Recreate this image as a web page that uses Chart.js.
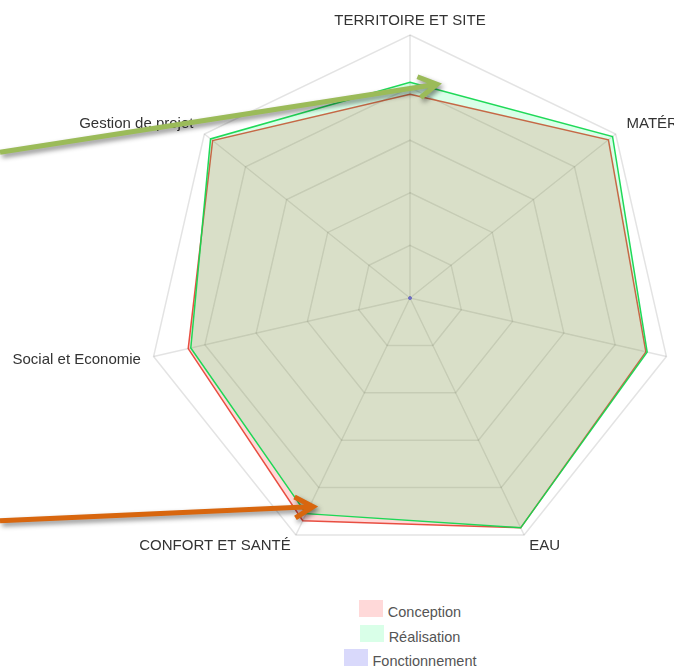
<!DOCTYPE html>
<html>
<head>
<meta charset="utf-8">
<script src="https://cdn.jsdelivr.net/npm/chart.js@4/dist/chart.umd.min.js"></script>
<style>
  html, body { margin: 0; padding: 0; background: #fff; overflow: hidden; }
  #wrap { position: relative; left: -30px; width: 880px; height: 573px; }
  #legend { position: absolute; top: 600px; left: 0; width: 820px; margin: 0; padding: 0;
            list-style: none; text-align: center; font: 14.5px Arial, "Liberation Sans", sans-serif; color: #555; }
  #legend li { height: 24.5px; line-height: 24.5px; }
  #legend span { display: inline-block; width: 24px; height: 17px; vertical-align: baseline; margin-right: 5px; }
</style>
</head>
<body>
<div id="wrap"><canvas id="radarChart"></canvas></div>
<ul id="legend"></ul>
<script>
const labels = ['TERRITOIRE ET SITE', 'MATÉRIAUX', 'ÉNERGIE', 'EAU', 'CONFORT ET SANTÉ', 'Social et Economie', 'Gestion de projet'];
const conception = [77.5, 96.5, 92, 97, 94, 86.5, 96];
const realisation = [82, 98.5, 92.5, 97, 91, 85.5, 97];
const fonctionnement = [0, 0, 0, 0, 0, 0, 0];

// label placement tweaks (distance from the outer ring, vertical box height)
const labelPad = [5, 14, 13, 12, 12, 13, 14];
const labelLineHeight = [1.2, 0.15, 0.05, 0.05, 0.05, 0.05, 0.15];

// screenshot annotations: arrows pointing at two of the "Réalisation" vertices
function drawArrow(ctx, x0, y0, x1, y1, color, width) {
  const a = Math.atan2(y1 - y0, x1 - x0);
  const len = 21, spread = Math.PI / 6;
  ctx.save();
  ctx.strokeStyle = color;
  ctx.lineWidth = width;
  ctx.lineJoin = 'miter';
  ctx.shadowColor = 'rgba(0,0,0,0.45)';
  ctx.shadowBlur = 5;
  ctx.shadowOffsetX = 2;
  ctx.shadowOffsetY = 3;
  ctx.beginPath();
  ctx.moveTo(x0, y0);
  ctx.lineTo(x1 - Math.cos(a) * 3, y1 - Math.sin(a) * 3);
  ctx.moveTo(x1 - len * Math.cos(a - spread), y1 - len * Math.sin(a - spread));
  ctx.lineTo(x1, y1);
  ctx.lineTo(x1 - len * Math.cos(a + spread), y1 - len * Math.sin(a + spread));
  ctx.stroke();
  ctx.restore();
}

const arrows = {
  id: 'arrows',
  afterDraw(chart) {
    const r = chart.scales.r;
    const p0 = r.getPointPositionForValue(0, realisation[0]);
    const p4 = r.getPointPositionForValue(4, realisation[4]);
    const x0 = 30; // left edge of the visible page
    drawArrow(chart.ctx, x0, p0.y + 70, p0.x + 27, p0.y + 2, '#9bbb59', 5);
    drawArrow(chart.ctx, x0, p4.y + 7, p4.x + 7, p4.y - 7, '#d8660e', 5);
  }
};

const radarChart = new Chart(document.getElementById('radarChart'), {
  type: 'radar',
  data: {
    labels: labels,
    datasets: [
      { label: 'Conception', data: conception, fill: true, order: 3,
        backgroundColor: 'rgba(255,0,0,0.15)', borderColor: 'rgba(228,50,35,0.85)', borderWidth: 1.5, pointRadius: 0 },
      { label: 'Réalisation', data: realisation, fill: true, order: 2,
        backgroundColor: 'rgba(0,255,100,0.15)', borderColor: 'rgba(20,215,80,0.95)', borderWidth: 1.5, pointRadius: 0 },
      { label: 'Fonctionnement', data: fonctionnement, fill: true, order: 1,
        backgroundColor: 'rgba(0,0,230,0.15)', borderColor: 'rgba(90,90,200,0.8)', borderWidth: 1, pointRadius: 1.5,
        pointBackgroundColor: 'rgba(110,110,190,0.9)', pointBorderWidth: 0 }
    ]
  },
  options: {
    responsive: true,
    maintainAspectRatio: false,
    animation: false,
    layout: { padding: { top: 1 } },
    plugins: { legend: { display: false }, tooltip: { enabled: false } },
    scales: {
      r: {
        min: 0, max: 100,
        ticks: { display: false, stepSize: 20 },
        grid: { color: 'rgba(0,0,0,0.11)', lineWidth: 1.5 },
        angleLines: { color: 'rgba(0,0,0,0.11)', lineWidth: 1.5 },
        pointLabels: {
          color: '#333',
          font: (ctx) => ({ family: 'Arial, "Liberation Sans", sans-serif', size: 15, lineHeight: labelLineHeight[ctx.index] }),
          padding: (ctx) => labelPad[ctx.index]
        }
      }
    }
  },
  plugins: [arrows]
});

const legend = document.getElementById('legend');
radarChart.data.datasets.forEach(ds => {
  const li = document.createElement('li');
  li.innerHTML = `<span style="background:${ds.backgroundColor}"></span>${ds.label}`;
  legend.appendChild(li);
});
</script>
</body>
</html>
